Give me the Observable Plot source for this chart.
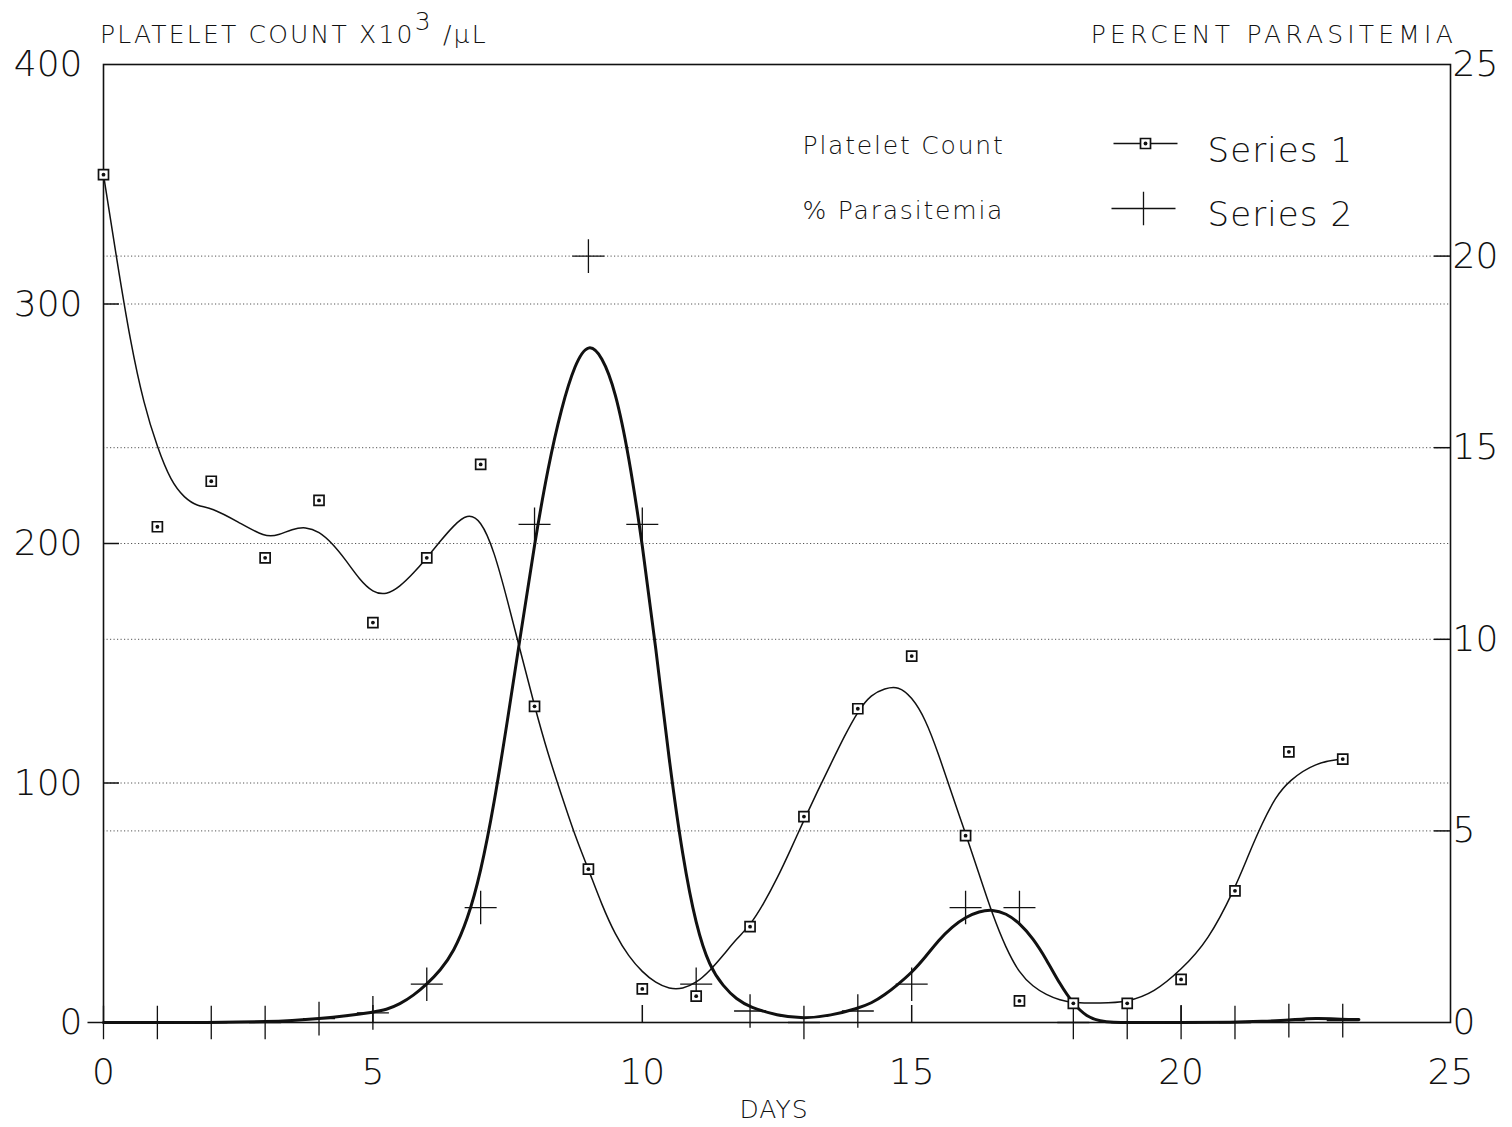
<!DOCTYPE html>
<html>
<head>
<meta charset="utf-8">
<script src="https://cdn.jsdelivr.net/npm/d3@7"></script>
<script src="https://cdn.jsdelivr.net/npm/@observablehq/plot@0.6"></script>
<style>
  body { margin: 0; background: #fff; }
  #wrap { position: relative; width: 1512px; height: 1127px; }
  .ttl { position: absolute; font-family: "DejaVu Sans", sans-serif; font-weight: 200; font-size: 25px; color: #111; white-space: nowrap; line-height: 1; }
  .sup { position: relative; top: -13px; }
</style>
</head>
<body>
<div id="wrap">
  <div class="ttl" id="tl" style="left:100px; top:22px; letter-spacing:2.2px">PLATELET COUNT X10<span class="sup">3</span> /µL</div>
  <div class="ttl" id="tr" style="right:55px; top:22px; letter-spacing:4.2px">PERCENT PARASITEMIA</div>
</div>
<script>
// ---- data ----
const days = [0,1,2,3,4,5,6,7,8,9,10,11,12,13,14,15,16,17,18,19,20,21,22,23];
const plateletCount = [354,207,226,194,218,167,194,233,132,64,14,11,40,86,131,153,78,9,8,8,18,55,113,110];
const parasitemia = [0,0,0,0,0.1,0.25,1.0,3.0,13.0,20.0,13.0,1.0,0.3,0,0.3,1.0,3.0,3.0,0,0,0,0,0.05,0.05];

// smoothed fit curves as drawn in the reference (at the listed days)
const plateletFitDays = [0,0.25,0.5,0.75,1,1.25,1.5,1.75,2,2.5,3,3.25,3.5,3.75,4,4.25,4.5,4.75,5,5.25,5.5,5.75,6,6.25,6.5,6.75,7,7.25,7.5,7.75,8,8.25,8.5,8.75,9,9.25,9.5,9.75,10,10.25,10.5,10.75,11,11.25,11.5,11.75,12,12.25,12.5,12.75,13,13.25,13.5,13.75,14,14.25,14.5,14.75,15,15.25,15.5,15.75,16,16.25,16.5,16.75,17,17.25,17.5,17.75,18,18.5,19,19.5,20,20.5,21,21.25,21.5,21.75,22,22.5,23];
const plateletFit = [354,318,284,258,240,226,219,215.5,215,209,202.5,203.5,206,207,205,200,193,185,179.5,178.5,182,187.5,194,201,207.5,212.5,210,197,176,154,132,112,95,78,64,49,36.5,27.5,21,16.5,14,14,16.5,21.5,28,35,40.5,49.5,60,72,84.5,96.5,108,119.5,130,137,139.5,140.5,136,127,112,95,79,62,45,31,20.5,15,11.5,9.3,8.2,8,8.5,12.5,22,34,56,70,83,94,101,108.6,110];
const parasitemiaFitDays = [0,1,2,2.5,3,3.5,4,4.5,5,5.25,5.5,5.75,6,6.25,6.5,6.75,7,7.25,7.5,7.75,8,8.25,8.5,8.75,9,9.25,9.5,9.75,10,10.25,10.5,10.75,11,11.25,11.5,11.75,12,12.5,13,13.5,14,14.25,14.5,14.75,15,15.25,15.5,15.75,16,16.25,16.5,16.75,17,17.25,17.5,17.75,18,18.25,18.5,18.75,19,20,21,21.5,22,22.5,23,23.3];
const parasitemiaFit = [0,0,0,0.01,0.02,0.05,0.1,0.17,0.27,0.33,0.48,0.7,1.0,1.35,1.85,2.65,3.9,5.7,7.9,10.2,12.5,14.5,16.05,17.2,17.75,17.4,16.5,14.8,12.5,9.8,6.8,4.3,2.5,1.45,0.95,0.6,0.4,0.18,0.1,0.18,0.37,0.5,0.72,1.0,1.3,1.7,2.15,2.5,2.75,2.9,2.95,2.85,2.6,2.2,1.65,1.0,0.48,0.15,0.03,0,0,0,0,0.03,0.06,0.12,0.08,0.08];

// axes
const xDomain = [0, 25];
const xTickLabels = [0,5,10,15,20,25];
const xInnerTicks = [5,10,15,20];
const leftDomain = [0, 400];
const leftTickLabels = [0,100,200,300,400];
const leftInnerTicks = [100,200,300];
const rightDomain = [0, 25];
const rightTickLabels = [0,5,10,15,20,25];
const rightInnerTicks = [5,10,15,20];

const legendLabels = ["Platelet Count", "% Parasitemia"];
const seriesNames = ["Series 1", "Series 2"];
const xLabel = "DAYS";

// ---- build ----
const PCT = leftDomain[1] / rightDomain[1]; // right axis -> left axis units
const s1 = days.map((d, i) => ({day: d, value: plateletCount[i]}));
const s2 = days.map((d, i) => ({day: d, value: parasitemia[i]}));
const f1 = plateletFitDays.map((d, i) => ({day: d, value: plateletFit[i]}));
const f2 = parasitemiaFitDays.map((d, i) => ({day: d, value: parasitemiaFit[i]}));

const W = 1512, H = 1127;
const mL = 103, mR = 62, mT = 64, mB = 105;
const plotW = W - mL - mR, plotH = H - mT - mB;
const ink = "#111";
const font = '"DejaVu Sans", sans-serif';

const R = (size) => Math.sqrt(size / Math.PI);
const squareSym = {draw(ctx, size) { const r = R(size); ctx.rect(-r, -r, 2 * r, 2 * r); }};
const plusSym = {draw(ctx, size) { const r = R(size); ctx.moveTo(-r, 0); ctx.lineTo(r, 0); ctx.moveTo(0, -r * 1.05); ctx.lineTo(0, r * 1.05); }};
const lineSym = {draw(ctx, size) { const r = R(size); ctx.moveTo(-r, 0); ctx.lineTo(r, 0); }};
const widePlusSym = {draw(ctx, size) { const r = R(size); ctx.moveTo(-r, 0); ctx.lineTo(r, 0); ctx.moveTo(0, -r * 0.52); ctx.lineTo(0, r * 0.52); }};

const chart = Plot.plot({
  width: W, height: H,
  marginLeft: mL, marginRight: mR, marginTop: mT, marginBottom: mB,
  x: {domain: xDomain, axis: null},
  y: {domain: leftDomain, axis: null},
  style: {fontFamily: font, fontWeight: 200, background: "transparent", color: ink},
  marks: [
    // dotted gridlines
    Plot.ruleY(leftInnerTicks, {y: d => d, stroke: "#555", strokeWidth: 1, strokeDasharray: "1.2,2.3"}),
    Plot.ruleY(rightInnerTicks, {y: d => d * PCT, stroke: "#555", strokeWidth: 1, strokeDasharray: "1.2,2.3"}),
    Plot.frame({stroke: ink, strokeWidth: 1.6}),
    // inner ticks
    Plot.tickY(leftInnerTicks, {y: d => d, stroke: ink, strokeWidth: 1.5, insetRight: plotW - 16}),
    Plot.tickY(rightInnerTicks, {y: d => d * PCT, stroke: ink, strokeWidth: 1.5, insetLeft: plotW - 16}),
    Plot.tickX(xInnerTicks, {x: d => d, stroke: ink, strokeWidth: 1.5, insetTop: plotH - 17}),
    // tick labels
    Plot.text(leftTickLabels, {y: d => d, text: d => String(d), frameAnchor: "left", lineAnchor: "middle", textAnchor: "end", dx: -21, fontSize: 36, fill: ink}),
    Plot.text(rightTickLabels, {y: d => d * PCT, text: d => String(d), frameAnchor: "right", lineAnchor: "middle", textAnchor: "start", dx: 2, fontSize: 36, fill: ink}),
    Plot.text(xTickLabels, {x: d => d, text: d => String(d), frameAnchor: "bottom", lineAnchor: "top", dy: 36, fontSize: 36, fill: ink}),
    Plot.text([xLabel], {text: d => d, frameAnchor: "bottom", lineAnchor: "top", dy: 78, dx: -3, fontSize: 25, fill: ink}),
    // fit curves
    Plot.line(f1, {x: "day", y: "value", curve: "basis", stroke: ink, strokeWidth: 1.5}),
    Plot.line(f2, {x: "day", y: d => d.value * PCT, curve: "basis", stroke: ink, strokeWidth: 3}),
    // series 2 markers
    Plot.dot(s2, {x: "day", y: d => d.value * PCT, symbol: plusSym, r: 16, fill: "none", stroke: ink, strokeWidth: 1.3}),
    // series 1 markers
    Plot.dot(s1, {x: "day", y: "value", symbol: squareSym, r: 5, fill: "white", stroke: ink, strokeWidth: 1.7}),
    Plot.dot(s1, {x: "day", y: "value", r: 1.9, fill: ink, stroke: "none"}),
    // legend
    Plot.text([legendLabels[0]], {text: d => d, frameAnchor: "top-left", lineAnchor: "middle", textAnchor: "start", dx: 699, dy: 81, fontSize: 25, fill: ink}),
    Plot.text([legendLabels[1]], {text: d => d, frameAnchor: "top-left", lineAnchor: "middle", textAnchor: "start", dx: 699, dy: 146.5, fontSize: 25, fill: ink}),
    Plot.dot([seriesNames[0]], {frameAnchor: "top-left", dx: 1042, dy: 79, symbol: lineSym, r: 32, fill: "none", stroke: ink, strokeWidth: 1.4}),
    Plot.dot([seriesNames[0]], {frameAnchor: "top-left", dx: 1042, dy: 79, symbol: squareSym, r: 5, fill: "white", stroke: ink, strokeWidth: 1.7}),
    Plot.dot([seriesNames[0]], {frameAnchor: "top-left", dx: 1042, dy: 79, r: 1.9, fill: ink, stroke: "none"}),
    Plot.dot([seriesNames[1]], {frameAnchor: "top-left", dx: 1040, dy: 144, symbol: widePlusSym, r: 32, fill: "none", stroke: ink, strokeWidth: 1.3}),
    Plot.text([seriesNames[0]], {text: d => d, frameAnchor: "top-left", lineAnchor: "middle", textAnchor: "start", dx: 1104, dy: 87, fontSize: 34, fill: ink}),
    Plot.text([seriesNames[1]], {text: d => d, frameAnchor: "top-left", lineAnchor: "middle", textAnchor: "start", dx: 1104, dy: 151, fontSize: 34, fill: ink})
  ]
});

chart.style.position = "absolute";
chart.style.left = "0";
chart.style.top = "0";
// letter spacing tweaks for the plotter-style lettering
chart.querySelectorAll("text").forEach(t => {
  const s = t.textContent;
  if (legendLabels.includes(s)) t.style.letterSpacing = "1.8px";
  else if (seriesNames.includes(s)) t.style.letterSpacing = "1.1px";
  else if (s === xLabel) t.style.letterSpacing = "1px";
});
document.getElementById("wrap").prepend(chart);
</script>
</body>
</html>
